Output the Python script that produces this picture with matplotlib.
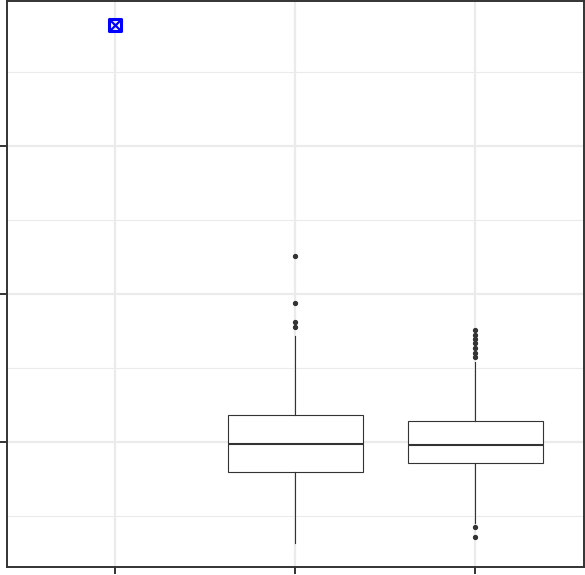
import matplotlib
matplotlib.use("Agg")
import matplotlib.pyplot as plt

# kutu grafiği verileri
groups = [2, 3]
medians = [0.994, 0.990]
q1 = [0.898, 0.928]
q3 = [1.090, 1.070]
whisker_lo = [0.660, 0.727]
whisker_hi = [1.358, 1.270]
outliers = [
    [1.628, 1.469, 1.406, 1.390],
    [1.378, 1.363, 1.348, 1.333, 1.318, 1.302, 1.286, 0.713, 0.681],
]

# tek nokta (grup 1)
ref_x = [1]
ref_y = [2.409]

y_major = [1.0, 1.5, 2.0]
y_minor = [0.75, 1.25, 1.75, 2.25]

fig = plt.figure(figsize=(5.85, 5.75), dpi=100)
ax = fig.add_axes([7 / 585, 8 / 575, 576.5 / 585, 566.5 / 575])

stats = []
for i in range(len(groups)):
    stats.append({
        "med": medians[i], "q1": q1[i], "q3": q3[i],
        "whislo": whisker_lo[i], "whishi": whisker_hi[i],
        "fliers": outliers[i],
    })

dark = "#333333"
ax.bxp(stats, positions=groups, widths=0.75, showcaps=False, patch_artist=True,
       boxprops=dict(facecolor="white", edgecolor=dark, linewidth=0.8),
       medianprops=dict(color=dark, linewidth=1.5),
       whiskerprops=dict(color=dark, linewidth=0.8),
       flierprops=dict(marker="o", markersize=2.8, markerfacecolor=dark,
                       markeredgecolor=dark, linestyle="none"),
       zorder=3)

# mavi işaret: kare + çarpı
ax.scatter(ref_x, ref_y, marker="s", s=75, facecolors="none", edgecolors="blue",
           linewidths=2.2, zorder=4)
ax.scatter(ref_x, ref_y, marker="x", s=45, color="blue", linewidths=1.6, zorder=4)

ax.set_xlim(0.4, 3.6)
ax.set_ylim(0.578, 2.4916)
ax.set_xticks([1, 2, 3])
ax.set_yticks(y_major)
ax.set_yticks(y_minor, minor=True)
ax.set_xticklabels([])
ax.set_yticklabels([])

ax.set_axisbelow(True)
ax.grid(which="major", color="#EBEBEB", linewidth=1.6)
ax.grid(which="minor", axis="y", color="#EBEBEB", linewidth=0.8)
ax.tick_params(which="major", length=5.2, width=1.4, color=dark)
ax.tick_params(which="minor", length=0)
for s in ax.spines.values():
    s.set_color(dark)
    s.set_linewidth(1.4)

fig.savefig("out.png", dpi=100)
